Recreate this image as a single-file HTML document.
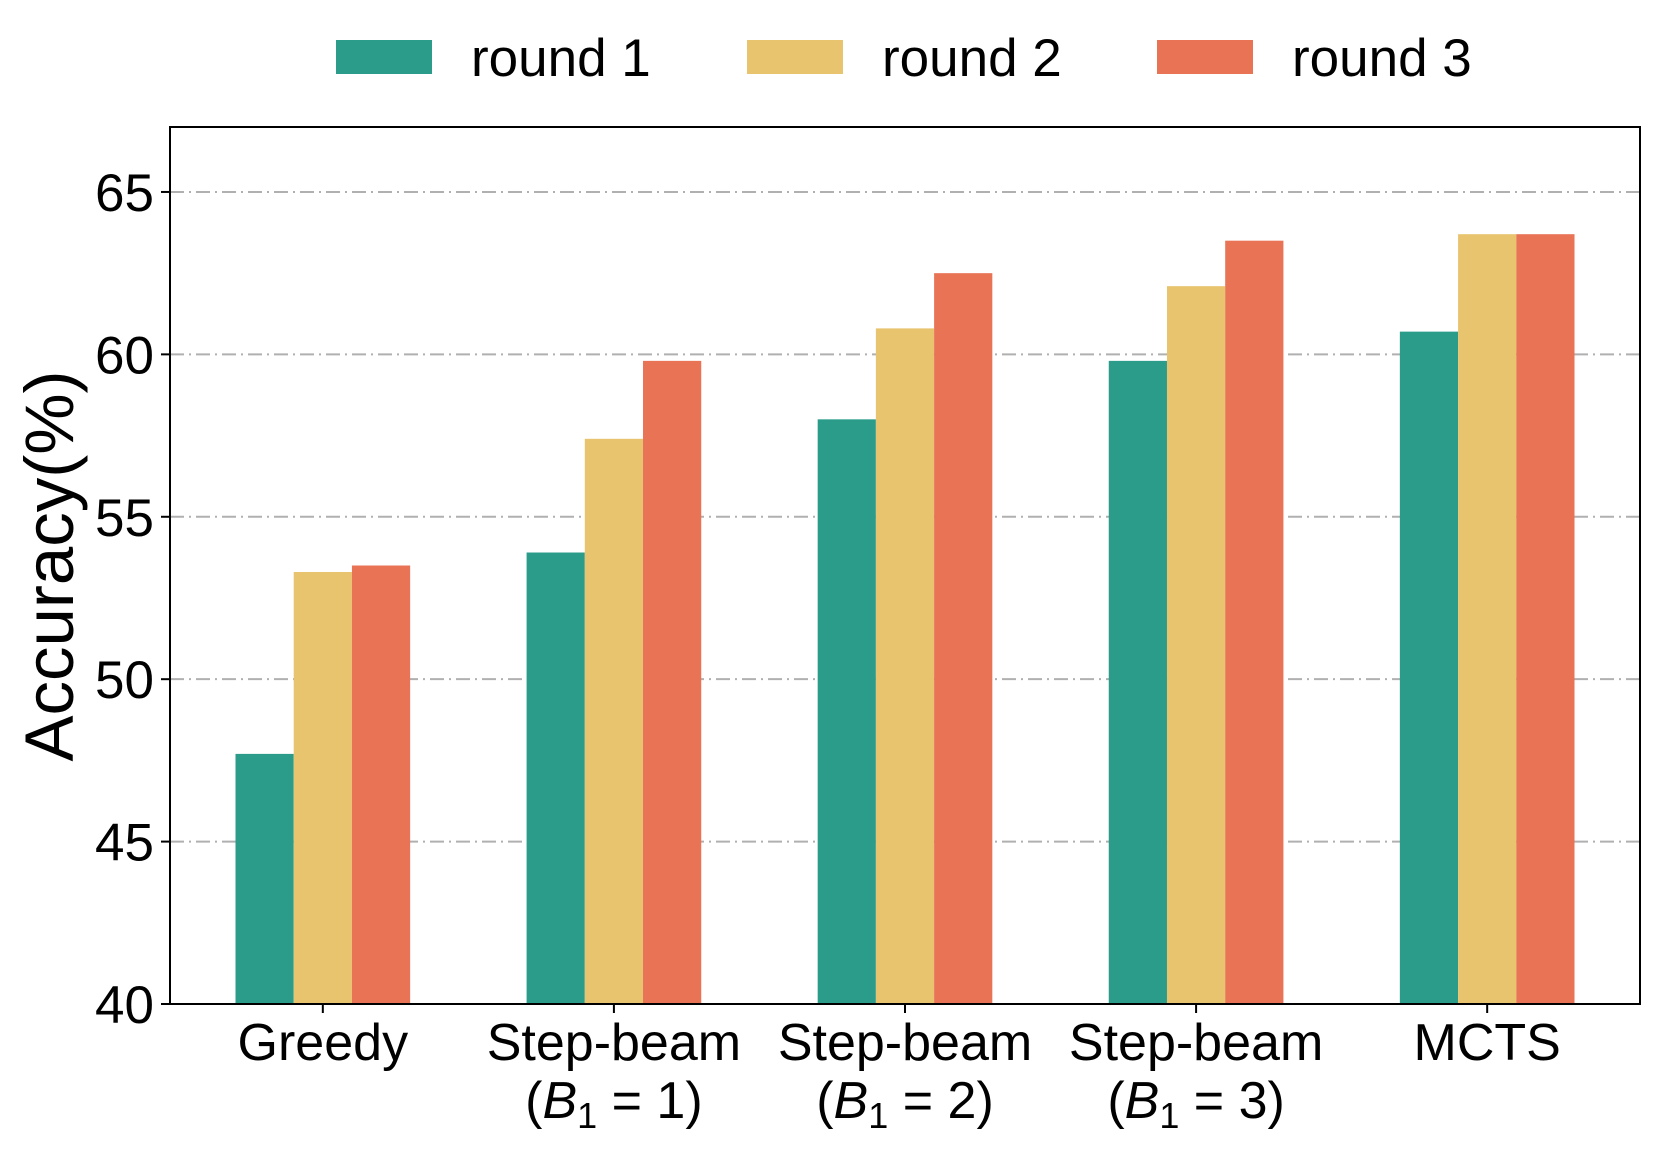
<!DOCTYPE html>
<html><head><meta charset="utf-8"><style>
html,body{margin:0;padding:0;background:#fff;}
svg{display:block;font-family:"Liberation Sans","DejaVu Sans",sans-serif;}
</style></head><body>
<svg id="chart" width="1659" height="1151" viewBox="0 0 1659 1151" xmlns="http://www.w3.org/2000/svg">
<g id="grid"></g><g id="bars"></g><g id="axes"></g><g id="legend"></g>
</svg>
<script>
const categories = ["Greedy", "Step-beam", "Step-beam", "Step-beam", "MCTS"];
const subLabels = ["", "1", "2", "3", ""];
const seriesNames = ["round 1", "round 2", "round 3"];
const round1 = [47.7, 53.9, 58.0, 59.8, 60.7];
const round2 = [53.3, 57.4, 60.8, 62.1, 63.7];
const round3 = [53.5, 59.8, 62.5, 63.5, 63.7];
const yTicks = [40, 45, 50, 55, 60, 65];

const series = [round1, round2, round3];
const colors = ["#2c9c8a", "#e8c46e", "#e87355"];
const NS = "http://www.w3.org/2000/svg";
const L = 170, R = 1640, T = 127, B = 1004;
const xMin = -0.525, xMax = 4.525, yMin = 40, yMax = 67;
const xs = v => L + (v - xMin) / (xMax - xMin) * (R - L);
const ys = v => B - (v - yMin) / (yMax - yMin) * (B - T);
function mk(tag, attrs, parent, text) {
  const e = document.createElementNS(NS, tag);
  for (const k in attrs) e.setAttribute(k, attrs[k]);
  if (text !== undefined) e.textContent = text;
  parent.appendChild(e);
  return e;
}
const grid = document.getElementById('grid');
const bars = document.getElementById('bars');
const axes = document.getElementById('axes');
const legend = document.getElementById('legend');

yTicks.forEach(t => {
  if (t > yMin) {
    const g = mk('line', {x1: L, x2: R, y1: ys(t), y2: ys(t), stroke: '#b0b0b0', 'stroke-width': 2, 'stroke-dasharray': '14 5 2 5'}, grid);
    
    
  }
  const tk = mk('line', {x1: L - 9, x2: L, y1: ys(t), y2: ys(t), stroke: '#000', 'stroke-width': 2}, axes);
  
  
  const lb = mk('text', {x: L - 16, y: ys(t) + 19, 'text-anchor': 'end', 'font-size': 53}, axes, String(t));
  
  
});

const bw = 0.2;
series.forEach((s, si) => {
  s.forEach((v, ci) => {
    const x0 = xs(ci + (si - 1) * bw - bw / 2), x1 = xs(ci + (si - 1) * bw + bw / 2);
    const r = mk('rect', {x: x0, y: ys(v), width: x1 - x0, height: ys(yMin) - ys(v), fill: colors[si]}, bars);
    
    
  });
});

categories.forEach((c, ci) => {
  const x = xs(ci);
  const tk = mk('line', {x1: x, x2: x, y1: B, y2: B + 9, stroke: '#000', 'stroke-width': 2}, axes);
  
  
  const t = mk('text', {x: x, y: 1060, 'text-anchor': 'middle', 'font-size': 52}, axes, c);
  
  
  if (subLabels[ci]) {
    const t2 = mk('text', {x: x, y: 1118, 'text-anchor': 'middle', 'font-size': 52}, axes);
    
    
    mk('tspan', {}, t2, '(');
    mk('tspan', {'font-style': 'italic'}, t2, 'B');
    mk('tspan', {'font-size': 36, dy: 10}, t2, '1');
    mk('tspan', {dy: -10}, t2, ' = ' + subLabels[ci] + ')');
  }
});

const frame = mk('rect', {x: L, y: T, width: R - L, height: B - T, fill: 'none', stroke: '#000', 'stroke-width': 2}, axes);


const yt = mk('text', {x: 0, y: 0, transform: 'translate(73,566) rotate(-90)', 'text-anchor': 'middle', 'font-size': 69}, axes, 'Accuracy(%)');



const legX = [336, 747, 1157];
seriesNames.forEach((n, i) => {
  const g = mk('g', {}, legend);
  
  
  mk('rect', {x: legX[i], y: 40, width: 96, height: 34, fill: colors[i]}, g);
  mk('text', {x: legX[i] + 135, y: 76, 'font-size': 53}, g, n);
});
</script>
</body></html>
